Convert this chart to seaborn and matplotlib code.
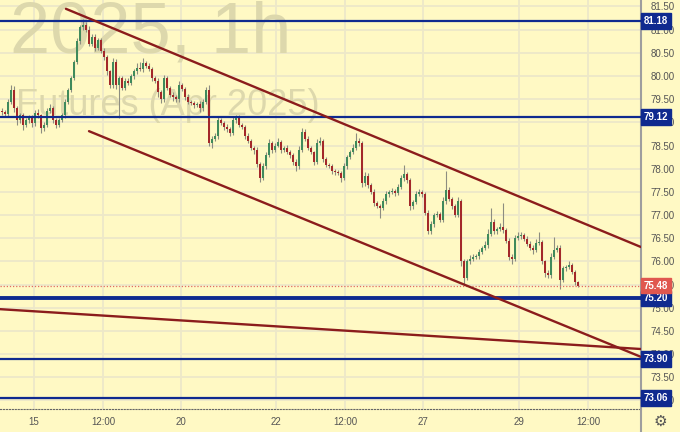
import numpy as np
import pandas as pd
import matplotlib
matplotlib.use("Agg")
import matplotlib.pyplot as plt
import matplotlib.transforms as mtransforms
from matplotlib.lines import Line2D
import seaborn as sns

# ── Hourly candles (one value per bar) ──
first_open = 79.25
closes = [
    79.22, 79.18, 79.45, 79.70, 79.30, 79.05, 79.15, 78.95, 79.05, 79.10,
    78.98, 79.20, 79.15, 78.88, 78.95, 79.25, 79.30, 79.05, 78.95, 79.05,
    79.15, 79.45, 79.70, 79.95, 80.30, 80.75, 81.05, 81.10, 81.00, 80.70,
    80.85, 80.60, 80.78, 80.55, 80.40, 80.10, 79.80, 80.30, 79.80, 79.95,
    79.75, 79.90, 79.85, 80.00, 80.10, 80.18, 80.15, 80.28, 80.22, 80.15,
    79.95, 79.90, 79.65, 79.50, 79.95, 79.75, 79.60, 79.55, 79.50, 79.80,
    79.72, 79.55, 79.45, 79.42, 79.38, 79.40, 79.30, 79.45, 79.70, 78.55,
    78.65, 78.70, 79.05, 78.98, 78.90, 78.85, 78.78, 79.05, 79.10, 78.95,
    78.90, 78.70, 78.60, 78.45, 78.40, 78.10, 77.80, 78.05, 78.30, 78.55,
    78.40, 78.50, 78.58, 78.40, 78.45, 78.35, 78.30, 78.15, 78.05, 78.40,
    78.80, 78.65, 78.45, 78.35, 78.15, 78.55, 78.60, 78.20, 78.08, 78.05,
    77.95, 77.92, 77.90, 77.80, 78.05, 78.25, 78.35, 78.45, 78.60, 78.55,
    77.70, 77.85, 77.65, 77.50, 77.25, 77.20, 77.15, 77.30, 77.45, 77.50,
    77.52, 77.48, 77.60, 77.80, 77.88, 77.75, 77.20, 77.28, 77.45, 77.50,
    77.45, 77.05, 76.65, 76.80, 77.00, 77.02, 76.90, 77.30, 77.55, 77.35,
    77.20, 77.00, 77.30, 76.00, 75.65, 76.00, 76.05, 76.10, 76.12, 76.20,
    76.28, 76.35, 76.60, 76.85, 76.65, 76.70, 76.75, 76.68, 76.45, 76.10,
    76.05, 76.50, 76.55, 76.58, 76.48, 76.38, 76.30, 76.25, 76.40, 76.42,
    76.00, 75.75, 75.70, 76.10, 76.25, 76.30, 75.60, 75.85, 75.88, 75.92,
    75.78, 75.55, 75.48,
]
up_wick = [
    .05, .04, .06, .10, .08, .05, .06, .05, .04, .06,
    .05, .06, .08, .04, .05, .06, .10, .05, .04, .05,
    .06, .05, .04, .06, .05, .06, .05, .12, .06, .08,
    .05, .06, .04, .05, .06, .05, .04, .08, .06, .05,
    .04, .06, .05, .04, .05, .10, .12, .10, .05, .06,
    .05, .04, .06, .05, .08, .05, .04, .06, .05, .10,
    .05, .04, .06, .04, .05, .04, .06, .05, .06, .10,
    .05, .06, .08, .05, .04, .06, .05, .08, .06, .05,
    .04, .05, .06, .05, .04, .06, .05, .08, .06, .10,
    .05, .06, .08, .05, .04, .06, .05, .04, .06, .08,
    .08, .05, .06, .05, .04, .10, .08, .05, .06, .04,
    .05, .04, .06, .05, .08, .05, .06, .08, .18, .06,
    .05, .08, .05, .04, .06, .05, .04, .06, .08, .05,
    .06, .05, .08, .06, .20, .05, .06, .05, .08, .06,
    .05, .04, .06, .08, .05, .06, .05, .10, .40, .06,
    .05, .04, .08, .05, .06, .05, .08, .06, .05, .06,
    .05, .08, .10, .30, .06, .05, .08, .50, .05, .06,
    .05, .06, .08, .05, .04, .06, .05, .06, .08, .22,
    .05, .04, .06, .08, .28, .06, .05, .06, .05, .08,
    .05, .04, .03,
]
down_wick = [
    .06, .05, .04, .05, .08, .10, .06, .12, .05, .06,
    .08, .05, .06, .10, .06, .05, .04, .06, .08, .05,
    .04, .05, .06, .05, .04, .05, .06, .05, .06, .05,
    .06, .05, .04, .06, .05, .08, .06, .05, .08, .70,
    .05, .06, .04, .05, .06, .05, .04, .06, .05, .04,
    .06, .05, .10, .08, .05, .06, .05, .08, .06, .05,
    .04, .06, .05, .04, .06, .05, .08, .05, .06, .05,
    .10, .06, .05, .04, .06, .05, .08, .05, .06, .05,
    .04, .06, .05, .04, .08, .06, .08, .05, .06, .05,
    .06, .05, .04, .06, .05, .04, .06, .08, .10, .05,
    .05, .06, .05, .04, .06, .05, .04, .06, .05, .04,
    .06, .05, .04, .08, .05, .06, .05, .04, .05, .06,
    .10, .08, .06, .05, .06, .05, .22, .05, .06, .05,
    .04, .06, .05, .04, .06, .05, .08, .06, .05, .04,
    .06, .05, .05, .06, .05, .04, .06, .05, .06, .05,
    .06, .05, .04, .10, .15, .05, .06, .04, .05, .06,
    .05, .04, .06, .05, .06, .05, .04, .06, .05, .08,
    .10, .05, .04, .06, .05, .04, .06, .08, .05, .04,
    .06, .08, .05, .06, .05, .04, .20, .05, .06, .04,
    .05, .06, .03,
]

# ── Levels and drawn lines ──
levels = [81.18, 79.12, 75.20, 73.90, 73.06]
level_lw = [1.6, 1.6, 2.8, 1.6, 1.6]
last_price = 75.48

upper_x, upper_y = [21.3, 213.0], [81.45, 76.31]
lower_x, lower_y = [29.0, 213.0], [78.81, 73.94]
slow_x, slow_y = [-0.7, 213.0], [74.97, 74.11]

tick_pos = [10.67, 33.67, 59.67, 91.33, 114.33, 140.33, 172.33, 195.33]
tick_labels = ["15", "12:00", "20", "22", "12:00", "27", "29", "12:00"]

# ── Data frame ──
df = pd.DataFrame({"close": closes})
df["open"] = [first_open] + closes[:-1]
df["high"] = df[["open", "close"]].max(axis=1) + np.array(up_wick)
df["low"] = df[["open", "close"]].min(axis=1) - np.array(down_wick)
df["bar"] = np.arange(len(df))
df["up"] = df["close"] >= df["open"]

bg = "#fff9c4"
navy = "#0f2a8f"
green = "#3f8a5c"
red = "#a3282a"

sns.set_theme(style="white")
plt.rcParams["font.family"] = ["Liberation Sans", "DejaVu Sans"]

fig = plt.figure(figsize=(6.8, 4.32), dpi=100, facecolor=bg)
ax = fig.add_axes([0, 23 / 432, 641 / 680, 409 / 432])
ax.set_facecolor(bg)
ax.set_xlim(-0.667, 213)
ax.set_ylim(72.816, 81.64)

# grid
ax.set_yticks(np.arange(73.0, 81.51, 0.5))
ax.set_yticklabels([f"{v:.2f}" for v in np.arange(73.0, 81.51, 0.5)])
ax.set_xticks(tick_pos)
ax.set_xticklabels(tick_labels)
ax.grid(True, color="#ede8c9", lw=1.3)
ax.set_axisbelow(True)
ax.yaxis.tick_right()
ax.tick_params(axis="y", length=0, pad=7, labelsize=7, labelcolor="#555555")
ax.tick_params(axis="x", length=0, pad=6, labelsize=7, labelcolor="#555555")

# watermark
ax.text(10 / 641, 1 - 52 / 409, "2025, 1h", transform=ax.transAxes,
        fontsize=52, color="#ddd8ac", va="baseline", ha="left", zorder=0.6)
ax.text(16 / 641, 1 - 115 / 409, "Futures (Apr 2025)", transform=ax.transAxes,
        fontsize=26, color="#ddd8ac", va="baseline", ha="left", zorder=0.6)

# candles
ax.vlines(df["bar"], df["low"], df["high"], color="#8d8d80", lw=0.8, zorder=2)
body = (df["close"] - df["open"]).abs().clip(lower=0.015)
ax.bar(df["bar"], body, bottom=df[["open", "close"]].min(axis=1), width=0.7,
       color=np.where(df["up"], green, red), linewidth=0, zorder=3)

# levels
for lvl, lw in zip(levels, level_lw):
    ax.axhline(lvl, color=navy, lw=lw, zorder=4)
ax.axhline(last_price, color="#e06a64", lw=0.9, ls=(0, (1, 1.5)), zorder=4)

# channel lines
for xs, ys in [(upper_x, upper_y), (lower_x, lower_y), (slow_x, slow_y)]:
    sns.lineplot(x=xs, y=ys, ax=ax, color="#8b1c1c", lw=1.7, zorder=5)

# price tags
trans = mtransforms.blended_transform_factory(ax.transAxes, ax.transData)
for lvl in levels:
    ax.text(1.004, lvl, f"{lvl:.2f}", transform=trans, ha="left", va="center",
            fontsize=7, fontweight="bold", color="white", clip_on=False, zorder=6,
            bbox=dict(boxstyle="square,pad=0.3", fc=navy, ec=navy))
ax.text(1.004, last_price, f"{last_price:.2f}", transform=trans, ha="left", va="center",
        fontsize=7, fontweight="bold", color="white", clip_on=False, zorder=6,
        bbox=dict(boxstyle="square,pad=0.3", fc="#e0574f", ec="#e0574f"))

for side in ["top", "left"]:
    ax.spines[side].set_visible(False)
ax.spines["right"].set_color("#9e9e9e")
ax.spines["right"].set_linewidth(1.5)
ax.spines["bottom"].set_color("#666666")
ax.spines["bottom"].set_linewidth(0.8)
ax.spines["bottom"].set_linestyle(":")

fig.add_artist(Line2D([641 / 680, 641 / 680], [0, 23 / 432], color="#9e9e9e", lw=1.5))
fig.text(660 / 680, 11 / 432, "\u2699", ha="center", va="center", fontsize=11,
         color="#555555", family="DejaVu Sans")

fig.savefig("out.png", dpi=100, facecolor=bg)
